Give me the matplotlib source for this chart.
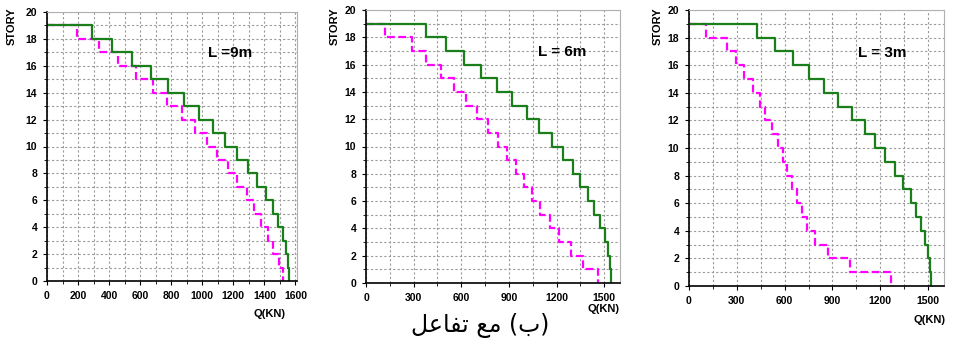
import numpy as np
import matplotlib
matplotlib.use("Agg")
from matplotlib import pyplot as plt
from matplotlib.ticker import MultipleLocator

plt.rcParams['font.family'] = ['Liberation Sans', 'DejaVu Sans']

# Stockwerke 19 .. 1 (oben nach unten)
stories = np.arange(19, 0, -1)

# Querkraft Q(KN) je Stockwerk, L = 9m
q9_green = [290, 421, 550, 667, 781, 880, 981, 1067, 1148, 1226,
            1295, 1353, 1409, 1456, 1488, 1518, 1538, 1551, 1561]
q9_pink = [194, 335, 458, 570, 680, 770, 867, 953, 1028, 1097,
           1168, 1226, 1286, 1335, 1378, 1422, 1458, 1495, 1523]

# L = 6m
q6_green = [377, 502, 615, 726, 828, 921, 1013, 1092, 1169, 1238,
            1301, 1351, 1397, 1439, 1475, 1504, 1523, 1538, 1546]
q6_pink = [119, 291, 381, 471, 554, 632, 701, 768, 831, 889,
           946, 996, 1048, 1098, 1157, 1218, 1289, 1370, 1460]

# L = 3m
q3_green = [425, 542, 650, 750, 850, 938, 1021, 1102, 1167, 1229,
            1290, 1344, 1390, 1425, 1458, 1483, 1500, 1513, 1521]
q3_pink = [104, 238, 296, 348, 400, 446, 479, 521, 556, 588,
           615, 646, 675, 706, 738, 790, 871, 1008, 1267]

titles = ["L =9m", "L = 6m", "L = 3m"]
xticks = [np.arange(0, 1601, 200), np.arange(0, 1501, 300), np.arange(0, 1501, 300)]
xminor = [100, 150, 150]
xmax = [1610, 1600, 1600]

# Achsenpositionen in Pixel: links, rechts, oben, unten
boxes = [(47, 297, 12, 281), (366, 620, 10, 283), (689, 944, 10, 286)]
story_x = [12, 335, 658]
qkn_pos = [(270, 314), (604, 309), (930, 320)]
ltext_pos = [(230, 53), (562, 52), (882, 53)]

W, H = 957, 341
fig = plt.figure(figsize=(W / 100, H / 100), dpi=100)


def stepLine(q):
    # Punkte fuer die Treppenkurve: (0,19), (q19,19), (q18,18), ..., (q1,1), (q1,0)
    x = [0] + list(q) + [q[-1]]
    y = [19] + list(stories) + [0]
    return x, y


data = [(q9_green, q9_pink), (q6_green, q6_pink), (q3_green, q3_pink)]

for i in range(3):
    l, r, t, b = boxes[i]
    ax = fig.add_axes([l / W, (H - b) / H, (r - l) / W, (b - t) / H])
    g, p = data[i]

    x, y = stepLine(p)
    ax.plot(x, y, color="#ff00ff", lw=1.6, ls=(0, (3.5, 1.6)), drawstyle="steps-pre")
    x, y = stepLine(g)
    ax.plot(x, y, color="#1a7f1a", lw=1.6, drawstyle="steps-pre")

    ax.set_xlim(0, xmax[i])
    ax.set_ylim(0, 20)
    ax.set_xticks(xticks[i])
    ax.set_yticks(np.arange(0, 21, 2))
    ax.xaxis.set_minor_locator(MultipleLocator(xminor[i]))
    ax.yaxis.set_minor_locator(MultipleLocator(1))
    ax.grid(True, which="both", color="#9a9a9a", lw=0.8, ls=(0, (2, 2)))
    ax.set_axisbelow(True)

    for lab in ax.get_xticklabels() + ax.get_yticklabels():
        lab.set_fontweight("bold")
    ax.tick_params(which="major", labelsize=7.5, length=3, width=0.8, pad=4)
    ax.tick_params(which="minor", length=2, width=0.6)

    ax.spines["left"].set_linewidth(1.2)
    ax.spines["bottom"].set_linewidth(1.2)
    ax.spines["top"].set_color("#b0b0b0")
    ax.spines["right"].set_color("#b0b0b0")

    fig.text(story_x[i] / W, 1 - 26 / H, "STORY", rotation=90, fontsize=8,
             fontweight="bold", ha="center", va="center")
    fig.text(qkn_pos[i][0] / W, 1 - qkn_pos[i][1] / H, "Q(KN)", fontsize=8,
             fontweight="bold", ha="center", va="center")
    fig.text(ltext_pos[i][0] / W, 1 - ltext_pos[i][1] / H, titles[i], fontsize=11,
             fontweight="bold", ha="center", va="center")

# "(ب) مع تفاعل" in Darstellungsformen, sichtbare Reihenfolge von links nach rechts
caption = "\uFEDE\uFECB\uFE8E\uFED4\uFE97 \uFECA\uFEE3 (\uFE8F)"
fig.text(480 / W, 1 - 325 / H, caption, fontsize=17, family="DejaVu Sans",
         ha="center", va="center")

fig.savefig("out.png", dpi=100)
